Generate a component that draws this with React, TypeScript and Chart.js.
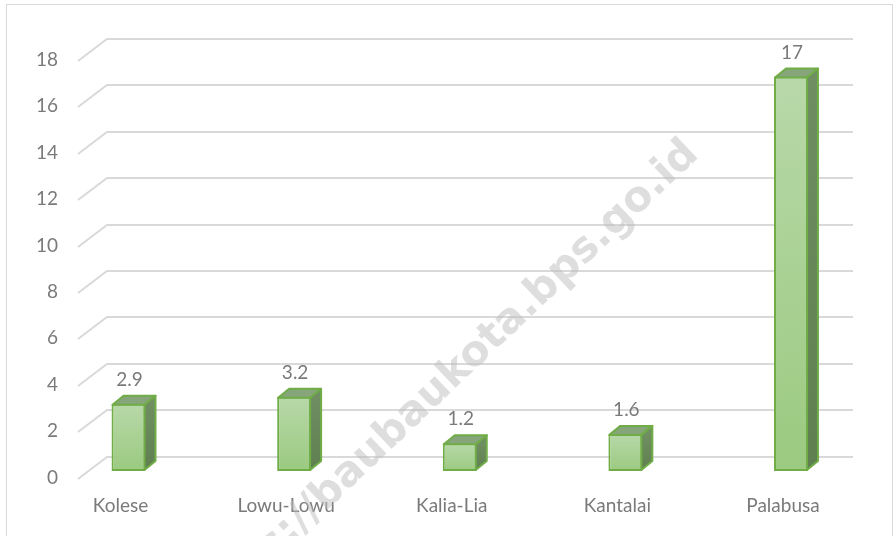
import React, { useEffect, useRef } from "react";
import { Chart, registerables } from "chart.js";

Chart.register(...registerables);

const categories = ["Kolese", "Lowu-Lowu", "Kalia-Lia", "Kantalai", "Palabusa"];
const values = [2.9, 3.2, 1.2, 1.6, 17];
const yTicks = [0, 2, 4, 6, 8, 10, 12, 14, 16, 18];
const watermark = "https://baubaukota.bps.go.id";

const FONT = "Lato, 'Open Sans', sans-serif";
const TEXT_COLOR = "#7a7a7a";
const DX = 11;
const DY = -9;

const decorPlugin = {
  id: "decor",
  beforeDraw(chart: any) {
    const c = chart.ctx;
    c.save();
    c.fillStyle = "#ffffff";
    c.fillRect(0, 0, chart.width, chart.height);
    c.strokeStyle = "#d9d9d9";
    c.lineWidth = 1;
    c.strokeRect(6.5, 4.5, 886, 540);
    c.restore();
  },
  beforeDatasetsDraw(chart: any) {
    const c = chart.ctx;
    const ys = chart.scales.y;
    c.save();
    // back wall gridlines with slanted side wall
    c.strokeStyle = "#d9d9d9";
    c.lineWidth = 2;
    c.lineJoin = "miter";
    yTicks.forEach((v) => {
      const fy = ys.getPixelForValue(v);
      const by = Math.round(fy - 14.5);
      c.beginPath();
      c.moveTo(78, by + 22);
      c.lineTo(107, by);
      c.lineTo(853, by);
      c.stroke();
    });
    // y tick labels
    c.fillStyle = TEXT_COLOR;
    c.font = `19px ${FONT}`;
    c.textAlign = "right";
    c.textBaseline = "middle";
    yTicks.forEach((v) => {
      const fy = ys.getPixelForValue(v);
      c.fillText(String(v), 58, fy + 6.5);
    });
    // watermark
    c.save();
    c.translate(700, 156);
    c.rotate((-43.5 * Math.PI) / 180);
    c.font = `bold 42px 'DejaVu Sans', sans-serif`;
    c.fillStyle = "rgba(190,190,190,0.5)";
    c.textAlign = "right";
    c.textBaseline = "alphabetic";
    c.fillText(watermark, 0, 0);
    c.restore();
    c.restore();
  },
  afterDatasetsDraw(chart: any) {
    const c = chart.ctx;
    const meta = chart.getDatasetMeta(0);
    c.save();
    meta.data.forEach((bar: any, i: number) => {
      const { x, y, base, width } = bar.getProps(["x", "y", "base", "width"], true);
      const l = x - width / 2;
      const r = x + width / 2;
      c.lineWidth = 2;
      c.lineJoin = "round";
      c.strokeStyle = "#70ad47";
      // top face
      c.beginPath();
      c.moveTo(l + 1, y + 1);
      c.lineTo(l + 1 + DX, y + 1 + DY);
      c.lineTo(r - 1 + DX, y + 1 + DY);
      c.lineTo(r - 1, y + 1);
      c.closePath();
      c.fillStyle = "#87a57a";
      c.fill();
      c.stroke();
      // side face
      const g = c.createLinearGradient(0, y, 0, base);
      g.addColorStop(0, "#6f8f62");
      g.addColorStop(1, "#5f7f50");
      c.beginPath();
      c.moveTo(r - 1, y + 1);
      c.lineTo(r - 1 + DX, y + 1 + DY);
      c.lineTo(r - 1 + DX, base - 1 + DY);
      c.lineTo(r - 1, base - 1);
      c.closePath();
      c.fillStyle = g;
      c.fill();
      c.stroke();
      // value label
      c.fillStyle = TEXT_COLOR;
      c.font = `19px ${FONT}`;
      c.textAlign = "center";
      c.textBaseline = "middle";
      c.fillText(String(values[i]), x + 1, y - 24);
    });
    c.restore();
  },
};

export default function App() {
  const ref = useRef<HTMLCanvasElement | null>(null);
  useEffect(() => {
    if (!ref.current) return;
    const chart = new Chart(ref.current, {
      type: "bar",
      data: {
        labels: categories,
        datasets: [
          {
            data: values,
            backgroundColor: (ctx: any) => {
              const ch = ctx.chart;
              const ys = ch.scales && ch.scales.y;
              if (!ys || ctx.type !== "data") return "#a9d18e";
              const top = ys.getPixelForValue(ctx.raw);
              const bottom = ys.getPixelForValue(0);
              if (!isFinite(top) || !isFinite(bottom)) return "#a9d18e";
              const g = ch.ctx.createLinearGradient(0, top, 0, bottom);
              g.addColorStop(0, "#b8d8a9");
              g.addColorStop(1, "#9bca80");
              return g;
            },
            borderColor: "#70ad47",
            borderWidth: 2,
            borderSkipped: false,
            barPercentage: 0.205,
            categoryPercentage: 1,
          },
        ],
      },
      options: {
        responsive: false,
        animation: false,
        devicePixelRatio: 1,
        layout: { padding: { top: 53.4, left: 45.7, right: 20.2, bottom: 0 } },
        plugins: { legend: { display: false }, tooltip: { enabled: false } },
        scales: {
          x: {
            grid: { display: false },
            border: { display: false },
            ticks: {
              color: TEXT_COLOR,
              font: { family: FONT, size: 19 },
              padding: 15,
              labelOffset: -8,
              maxRotation: 0,
              autoSkip: false,
            },
            afterFit: (s: any) => {
              s.height = 65;
            },
          },
          y: {
            display: false,
            min: 0,
            max: 18,
            ticks: { stepSize: 2 },
          },
        },
      },
      plugins: [decorPlugin],
    });
    return () => chart.destroy();
  }, []);
  return (
    <div style={{ position: "absolute", left: 0, top: 0, width: 894, height: 536 }}>
      <canvas ref={ref} width={894} height={536} style={{ display: "block" }} />
    </div>
  );
}
